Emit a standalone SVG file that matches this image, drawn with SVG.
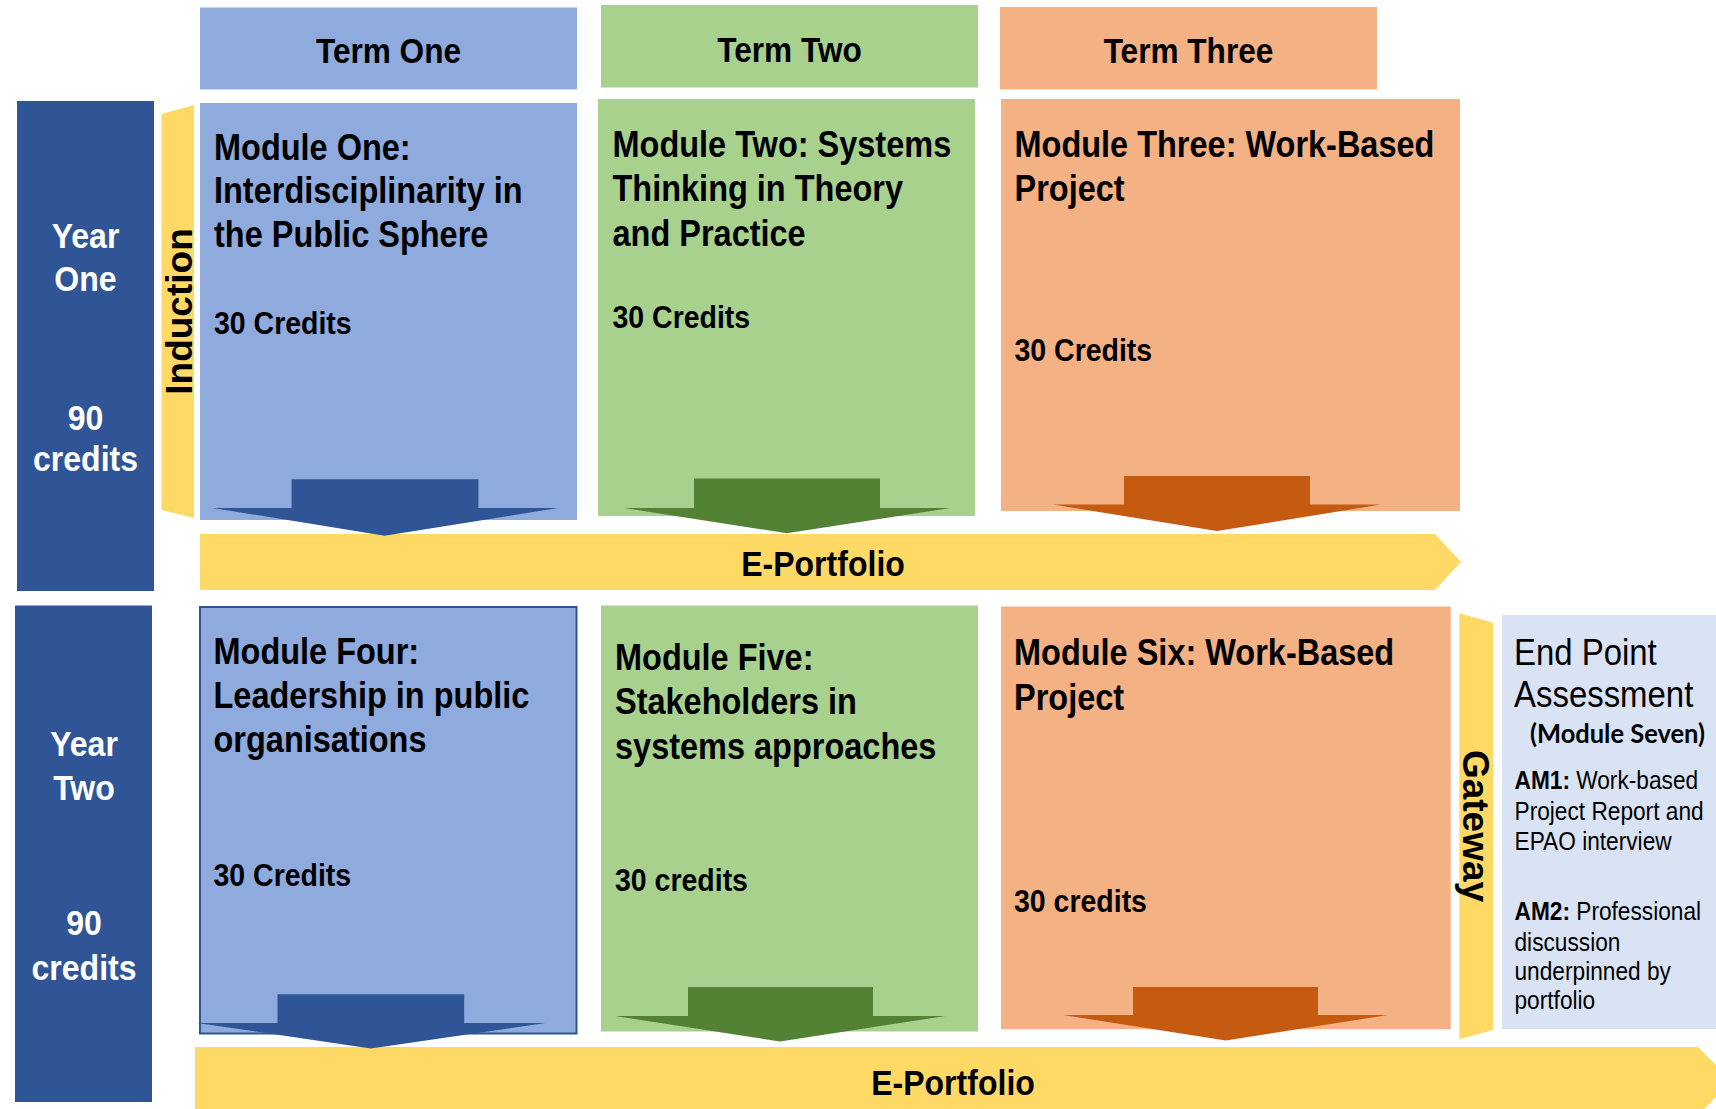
<svg xmlns="http://www.w3.org/2000/svg" width="1716" height="1109" viewBox="0 0 1716 1109">
<style>
.b{font-family:"Liberation Sans",Arial,sans-serif;font-weight:bold;fill:#000}
.r{font-family:"Liberation Sans",Arial,sans-serif;font-weight:normal;fill:#000}
.w{fill:#fff}
.mt{font-size:36.5px}
.cr{font-size:32px}
.tm{font-size:35.5px}
.yr{font-size:36px}
.ep{font-size:36px}
.blue{fill:#8FAADC}
.green{fill:#A9D18E}
.orange{fill:#F4B183}
.navy{fill:#2F5597}
.yellow{fill:#FFD966}
.epa{fill:#DAE3F3}
.body{font-size:25.5px}
</style>
<rect width="1716" height="1109" fill="#fff"/>

<g id="term-one">
<rect class="blue" x="200" y="7.5" width="377" height="82"/>
<text class="b tm" text-anchor="middle" transform="translate(388.5,0) scale(0.89,1)" x="0" y="63">Term One</text>
</g>
<g id="term-two">
<rect class="green" x="601" y="5" width="377" height="82.5"/>
<text class="b tm" text-anchor="middle" transform="translate(789.5,0) scale(0.89,1)" x="0" y="62.5">Term Two</text>
</g>
<g id="term-three">
<rect class="orange" x="1000" y="7" width="377" height="82.5"/>
<text class="b tm" text-anchor="middle" transform="translate(1188.5,0) scale(0.89,1)" x="0" y="63">Term Three</text>
</g>

<g id="year-one">
<rect class="navy" x="17" y="101" width="137" height="490"/>
<g class="b yr w" text-anchor="middle" transform="translate(85.5,0) scale(0.89,1)">
<text x="0" y="248">Year</text>
<text x="0" y="291">One</text>
<text x="0" y="430">90</text>
<text x="0" y="471">credits</text>
</g>
</g>
<g id="year-two">
<rect class="navy" x="15" y="605.5" width="137" height="496.5"/>
<g class="b yr w" text-anchor="middle" transform="translate(84,0) scale(0.89,1)">
<text x="0" y="756">Year</text>
<text x="0" y="800">Two</text>
<text x="0" y="935">90</text>
<text x="0" y="980">credits</text>
</g>
</g>

<g id="induction">
<polygon class="yellow" points="161.5,114 194,105 194,518 161.5,510"/>
<text class="b" font-size="37" text-anchor="middle" transform="translate(192,311.5) rotate(-90)" x="0" y="0">Induction</text>
</g>

<g id="e-portfolio-1">
<polygon class="yellow" points="200,534 1435,534 1461,562 1435,590 200,590"/>
<text class="b ep" text-anchor="middle" transform="translate(823,0) scale(0.89,1)" x="0" y="576">E-Portfolio</text>
</g>
<g id="e-portfolio-2">
<polygon class="yellow" points="195,1047 1698,1047 1732,1081 1698,1115 195,1115"/>
<text class="b ep" text-anchor="middle" transform="translate(953,0) scale(0.89,1)" x="0" y="1095">E-Portfolio</text>
</g>

<g id="module-one">
<rect class="blue" x="200" y="103" width="377" height="417"/>
<g class="b" transform="translate(214,0) scale(0.89,1)">
<text class="mt" x="0" y="160">Module One:</text>
<text class="mt" x="0" y="203.5">Interdisciplinarity in</text>
<text class="mt" x="0" y="247.5">the Public Sphere</text>
<text class="cr" x="0" y="334">30 Credits</text>
</g>
</g>
<g id="module-two">
<rect class="green" x="598" y="99" width="377" height="417"/>
<g class="b" transform="translate(612.5,0) scale(0.89,1)">
<text class="mt" x="0" y="157">Module Two: Systems</text>
<text class="mt" x="0" y="201.5">Thinking in Theory</text>
<text class="mt" x="0" y="246">and Practice</text>
<text class="cr" x="0" y="328">30 Credits</text>
</g>
</g>
<g id="module-three">
<rect class="orange" x="1001" y="99" width="459" height="412"/>
<g class="b" transform="translate(1014.5,0) scale(0.89,1)">
<text class="mt" x="0" y="157">Module Three: Work-Based</text>
<text class="mt" x="0" y="201">Project</text>
<text class="cr" x="0" y="361">30 Credits</text>
</g>
</g>

<g id="module-four">
<rect class="blue" x="200" y="607" width="376.5" height="426.5" stroke="#2F5597" stroke-width="2"/>
<g class="b" transform="translate(213.5,0) scale(0.89,1)">
<text class="mt" x="0" y="664">Module Four:</text>
<text class="mt" x="0" y="708">Leadership in public</text>
<text class="mt" x="0" y="752.5">organisations</text>
<text class="cr" x="0" y="886">30 Credits</text>
</g>
</g>
<g id="module-five">
<rect class="green" x="601" y="605.5" width="377" height="426"/>
<g class="b" transform="translate(615,0) scale(0.89,1)">
<text class="mt" x="0" y="670">Module Five:</text>
<text class="mt" x="0" y="714">Stakeholders in</text>
<text class="mt" x="0" y="759.5">systems approaches</text>
<text class="cr" x="0" y="891">30 credits</text>
</g>
</g>
<g id="module-six">
<rect class="orange" x="1001" y="606.5" width="449.7" height="422.7"/>
<g class="b" transform="translate(1014,0) scale(0.89,1)">
<text class="mt" x="0" y="665">Module Six: Work-Based</text>
<text class="mt" x="0" y="710.5">Project</text>
<text class="cr" x="0" y="912">30 credits</text>
</g>
</g>

<g id="gateway">
<polygon class="yellow" points="1459.3,613.3 1493.3,622.7 1493.3,1030 1459.3,1039.3"/>
<text class="b" font-size="37" text-anchor="middle" transform="translate(1462.7,826) rotate(90)" x="0" y="0">Gateway</text>
</g>

<g id="end-point-assessment">
<rect class="epa" x="1502" y="615" width="214" height="414"/>
<g class="r" font-size="37" transform="translate(1514,0) scale(0.89,1)">
<text x="0" y="665">End Point</text>
<text x="0" y="707">Assessment</text>
</g>
<text font-family="Lato,'Open Sans',sans-serif" font-weight="bold" font-size="26" x="1530" y="743" textLength="175" lengthAdjust="spacingAndGlyphs">(Module Seven)</text>
<g class="r body" transform="translate(1514.5,0) scale(0.89,1)">
<text x="0" y="789"><tspan font-weight="bold">AM1:</tspan> Work-based</text>
<text x="0" y="820">Project Report and</text>
<text x="0" y="850.5">EPAO interview</text>
<text x="0" y="920.5"><tspan font-weight="bold">AM2:</tspan> Professional</text>
<text x="0" y="951">discussion</text>
<text x="0" y="980.5">underpinned by</text>
<text x="0" y="1009">portfolio</text>
</g>
</g>

<g id="connectors">
<polygon fill="#2F5597" points="291.6,479.3 478.4,479.3 478.4,508 558,508 384.6,535.7 213,508 291.6,508"/>
<polygon fill="#548235" points="694,478.6 880,478.6 880,508 950.5,508 786.7,533.2 624,508 694,508"/>
<polygon fill="#C55A11" points="1124,476 1310,476 1310,504.6 1381,504.6 1217,531 1053,504.6 1124,504.6"/>
<polygon fill="#2F5597" points="277.5,994.2 464.2,994.2 464.2,1023 545.3,1023 370.8,1048.4 197,1023 277.5,1023"/>
<polygon fill="#548235" points="688,987 873,987 873,1016 945.5,1016 780,1041.4 615,1016 688,1016"/>
<polygon fill="#C55A11" points="1133,987 1318,987 1318,1015 1388,1015 1225.8,1040.4 1063,1015 1133,1015"/>
</g>
</svg>
